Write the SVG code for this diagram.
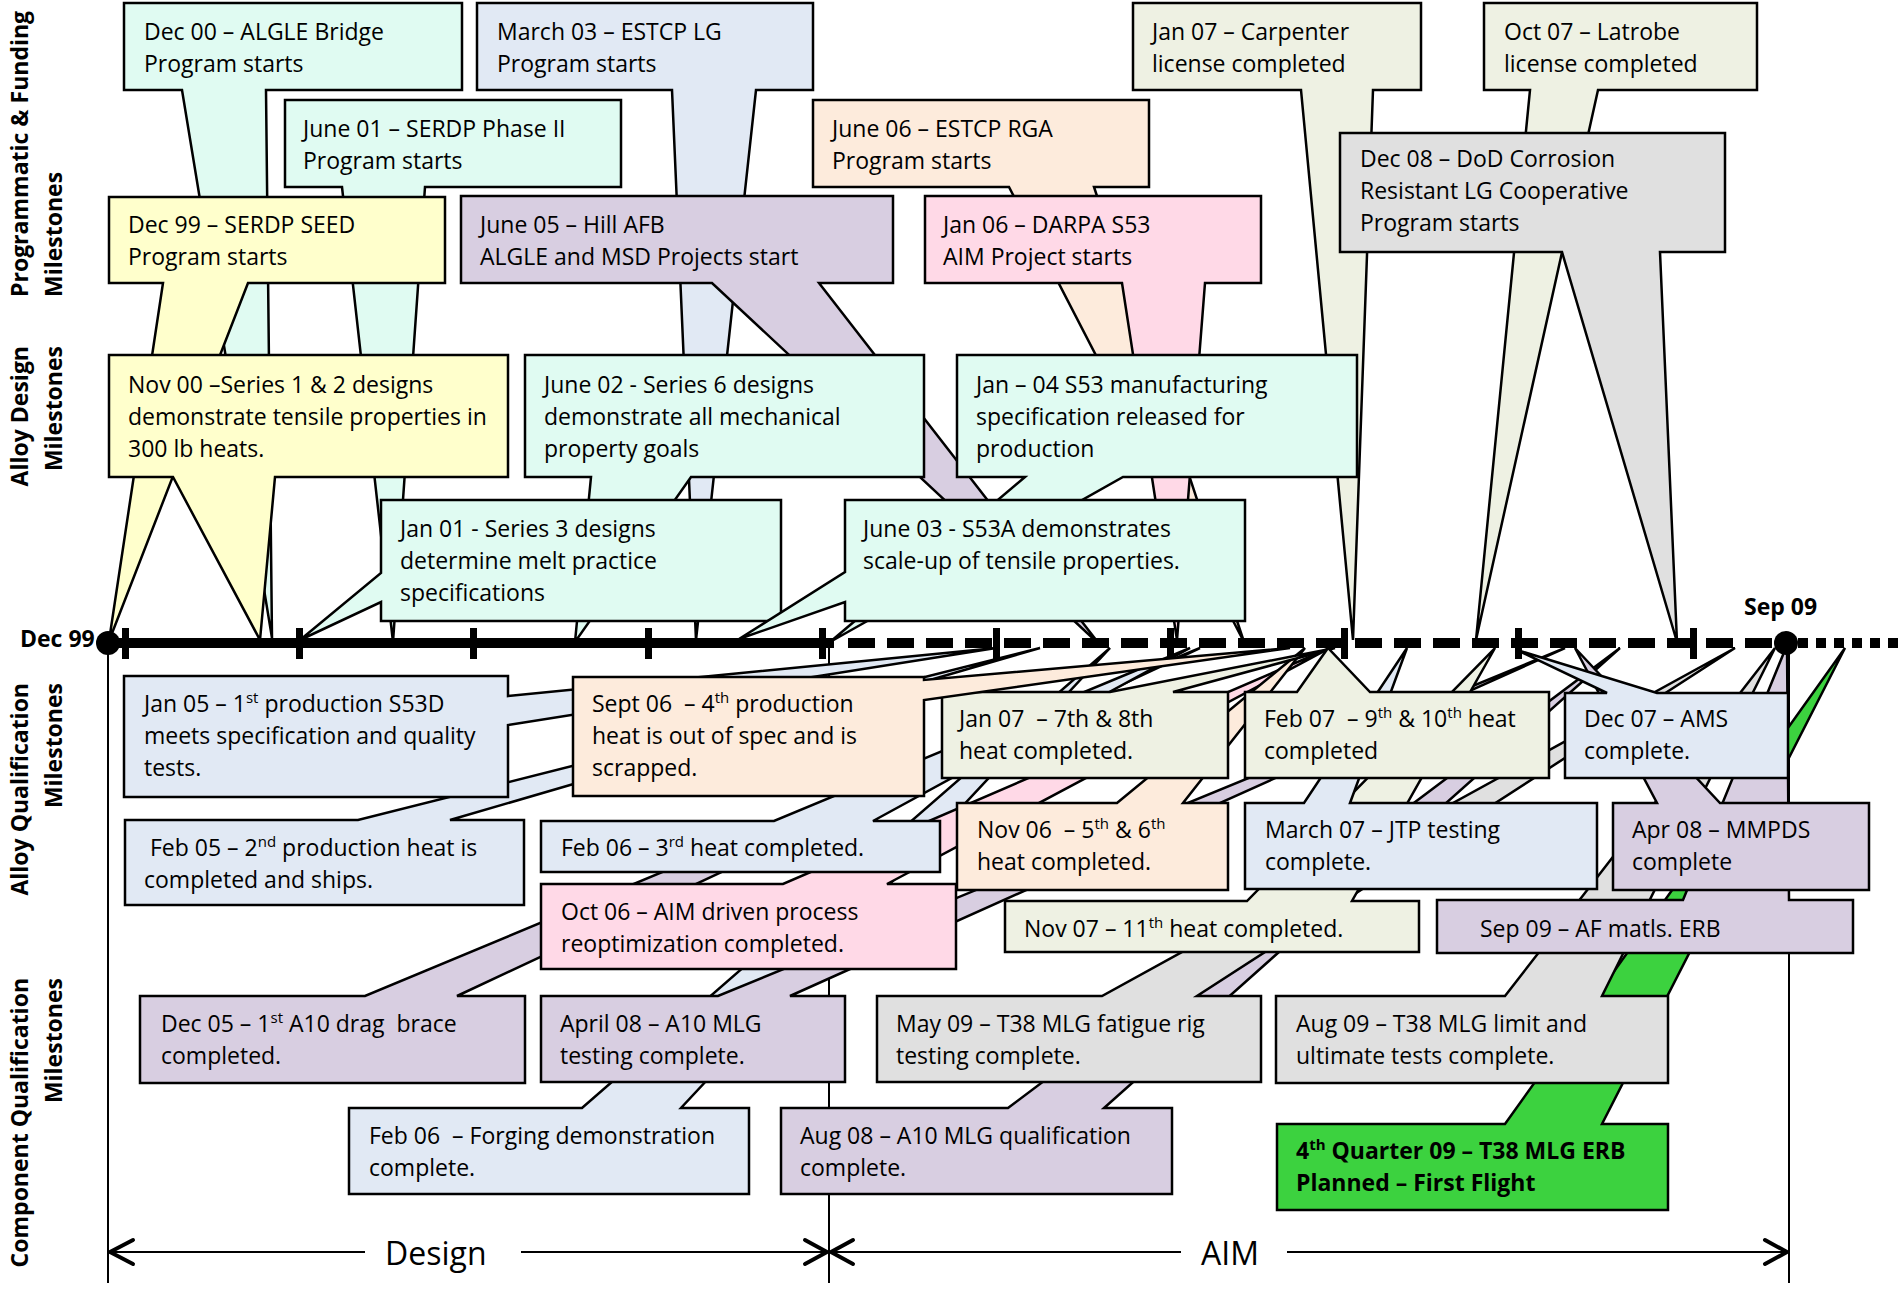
<svg xmlns="http://www.w3.org/2000/svg" width="1902" height="1289" viewBox="0 0 1902 1289">
<style>
.b{stroke:#000;stroke-width:2.5;stroke-linejoin:miter}
.mint{fill:#E0FBF2}.blue{fill:#E1E9F4}.yel{fill:#FFFFCC}.lav{fill:#D8CEE1}.peach{fill:#FDEBDC}.pink{fill:#FFD9E7}.olive{fill:#EEF1E3}.gray{fill:#E0E0E0}.green{fill:#3CD23F}
text{font-family:"Open Sans","Liberation Sans",sans-serif;font-size:23px;fill:#000;white-space:pre}
.lbl{font-weight:bold;font-size:23px}
.bold{font-weight:bold}
.big{font-size:32px}
.ln{stroke:#000;stroke-width:2;fill:none}
.ah{stroke:#000;stroke-width:4;fill:none;stroke-linecap:round;stroke-linejoin:round}
</style>
<rect width="1902" height="1289" fill="#fff"/>
<g id="axis-labels">
<text class="lbl" transform="translate(28,297) rotate(-90)">Programmatic &amp; Funding</text>
<text class="lbl" transform="translate(62,297) rotate(-90)">Milestones</text>
<text class="lbl" text-anchor="end" transform="translate(28,346) rotate(-90)">Alloy Design</text>
<text class="lbl" text-anchor="end" transform="translate(62,346) rotate(-90)">Milestones</text>
<text class="lbl" text-anchor="end" transform="translate(28,683) rotate(-90)">Alloy Qualification</text>
<text class="lbl" text-anchor="end" transform="translate(62,683) rotate(-90)">Milestones</text>
<text class="lbl" text-anchor="end" transform="translate(28,978) rotate(-90)">Component Qualification</text>
<text class="lbl" text-anchor="end" transform="translate(62,978) rotate(-90)">Milestones</text>
</g>
<g id="guides">
<line class="ln" x1="108" y1="643" x2="108" y2="1283"/>
<line class="ln" x1="829" y1="648" x2="829" y2="1283"/>
<line class="ln" x1="1789" y1="643" x2="1789" y2="1283"/>
</g>
<g id="n-dec00"><path class="b mint" d="M124,3H462V90H266L272,638L182,90H124Z"/><text x="144" y="40">Dec 00 – ALGLE Bridge</text><text x="144" y="72">Program starts</text></g>
<g id="n-mar03"><path class="b blue" d="M477,3H813V90H756L696,640L672,90H477Z"/><text x="497" y="40">March 03 – ESTCP LG</text><text x="497" y="72">Program starts</text></g>
<g id="n-jan07c"><path class="b olive" d="M1133,3H1421V90H1373L1353,640L1301,90H1133Z"/><text x="1152" y="40">Jan 07 – Carpenter</text><text x="1152" y="72">license completed</text></g>
<g id="n-oct07"><path class="b olive" d="M1484,3H1757V90H1598L1476,640L1530,90H1484Z"/><text x="1504" y="40">Oct 07 – Latrobe</text><text x="1504" y="72">license completed</text></g>
<g id="n-jun01"><path class="b mint" d="M285,100H621V187H425L393,642L342,187H285Z"/><text x="303" y="137">June 01 – SERDP Phase II</text><text x="303" y="169">Program starts</text></g>
<g id="n-jun06"><path class="b peach" d="M813,100H1149V187H1094L1244,642L1009,187H813Z"/><text x="832" y="137">June 06 – ESTCP RGA</text><text x="832" y="169">Program starts</text></g>
<g id="n-dec99"><path class="b yel" d="M109,197H445V283H248L109,641L163,283H109Z"/><text x="128" y="233">Dec 99 – SERDP SEED</text><text x="128" y="265">Program starts</text></g>
<g id="n-jun05"><path class="b lav" d="M461,196H893V283H819L1100,645L712,283H461Z"/><text x="480" y="233">June 05 – Hill AFB</text><text x="480" y="265">ALGLE and MSD Projects start</text></g>
<g id="n-jan06"><path class="b pink" d="M925,196H1261V283H1205L1177,640L1122,283H925Z"/><text x="943" y="233">Jan 06 – DARPA S53</text><text x="943" y="265">AIM Project starts</text></g>
<g id="n-dec08"><path class="b gray" d="M1340,133H1725V252H1660L1677,642L1562,252H1340Z"/><text x="1360" y="167">Dec 08 – DoD Corrosion</text><text x="1360" y="199">Resistant LG Cooperative</text><text x="1360" y="231">Program starts</text></g>
<g id="n-nov00"><path class="b yel" d="M109,355H508V477H275L260,640L173,477H109Z"/><text x="128" y="393">Nov 00 –Series 1 &amp; 2 designs</text><text x="128" y="425">demonstrate tensile properties in</text><text x="128" y="457">300 lb heats.</text></g>
<g id="n-jun02"><path class="b mint" d="M525,355H924V477H691L575,642L591,477H525Z"/><text x="544" y="393">June 02 - Series 6 designs</text><text x="544" y="425">demonstrate all mechanical</text><text x="544" y="457">property goals</text></g>
<g id="n-jan04"><path class="b mint" d="M957,355H1357V477H1123L830,642L1025,477H957Z"/><text x="976" y="393">Jan – 04 S53 manufacturing</text><text x="976" y="425">specification released for</text><text x="976" y="457">production</text></g>
<g id="n-jan01"><path class="b mint" d="M381,500H781V621H381V602L300,640L381,573Z"/><text x="400" y="537">Jan 01 - Series 3 designs</text><text x="400" y="569">determine melt practice</text><text x="400" y="601">specifications</text></g>
<g id="n-jun03"><path class="b mint" d="M845,500H1245V621H845V602L739,639L845,572Z"/><text x="863" y="537">June 03 - S53A demonstrates</text><text x="863" y="569">scale-up of tensile properties.</text></g>

<g id="n-feb06f"><path class="b blue" d="M349,1108H582L1110,648L681,1108H749V1194H349Z"/><text x="369" y="1144">Feb 06  – Forging demonstration</text><text x="369" y="1176">complete.</text></g>
<g id="n-aug08"><path class="b lav" d="M781,1108H1008L1620,648L1104,1108H1172V1194H781Z"/><text x="800" y="1144">Aug 08 – A10 MLG qualification</text><text x="800" y="1176">complete.</text></g>
<g id="n-q409"><path class="b green" d="M1277,1124H1505L1845,648L1602,1124H1668V1210H1277Z"/><text class="bold" x="1296" y="1159">4<tspan font-size="15" dy="-9">th</tspan><tspan dy="9"> Quarter 09 – T38 MLG ERB</tspan></text><text class="bold" x="1296" y="1191">Planned – First Flight</text></g>
<g id="n-dec05"><path class="b lav" d="M140,996H365L1200,648L457,996H525V1083H140Z"/><text x="161" y="1032">Dec 05 – 1<tspan font-size="15" dy="-9">st</tspan><tspan dy="9"> A10 drag  brace</tspan></text><text x="161" y="1064">completed.</text></g>
<g id="n-apr08a"><path class="b lav" d="M541,996H718L1565,648L790,996H845V1082H541Z"/><text x="560" y="1032">April 08 – A10 MLG</text><text x="560" y="1064">testing complete.</text></g>
<g id="n-may09"><path class="b gray" d="M877,996H1102L1735,648L1197,996H1261V1082H877Z"/><text x="896" y="1032">May 09 – T38 MLG fatigue rig</text><text x="896" y="1064">testing complete.</text></g>
<g id="n-aug09"><path class="b gray" d="M1276,996H1505L1775,648L1602,996H1668V1083H1276Z"/><text x="1296" y="1032">Aug 09 – T38 MLG limit and</text><text x="1296" y="1064">ultimate tests complete.</text></g>
<g id="n-sep09"><path class="b lav" d="M1437,900H1683L1787,645L1789,900H1853V953H1437Z"/><text x="1480" y="937">Sep 09 – AF matls. ERB</text></g>
<g id="n-nov07"><path class="b olive" d="M1005,901H1247L1495,648L1352,901H1419V952H1005Z"/><text x="1024" y="937">Nov 07 – 11<tspan font-size="15" dy="-9">th</tspan><tspan dy="9"> heat completed.</tspan></text></g>
<g id="n-oct06"><path class="b pink" d="M541,884H783L1330,648L887,884H956V969H541Z"/><text x="561" y="920">Oct 06 – AIM driven process</text><text x="561" y="952">reoptimization completed.</text></g>
<g id="n-nov06"><path class="b peach" d="M957,803H1117L1305,648L1183,803H1228V890H957Z"/><text x="977" y="838">Nov 06  – 5<tspan font-size="15" dy="-9">th</tspan><tspan dy="9"> &amp; 6</tspan><tspan font-size="15" dy="-9">th</tspan></text><text x="977" y="870">heat completed.</text></g>
<g id="n-mar07"><path class="b blue" d="M1245,803H1304L1407,648L1350,803H1597V889H1245Z"/><text x="1265" y="838">March 07 – JTP testing</text><text x="1265" y="870">complete.</text></g>
<g id="n-apr08m"><path class="b lav" d="M1613,803H1657L1575,648L1720,803H1869V890H1613Z"/><text x="1632" y="838">Apr 08 – MMPDS</text><text x="1632" y="870">complete</text></g>
<g id="n-feb06h"><path class="b blue" d="M541,821H774L1190,648L873,821H940V872H541Z"/><text x="561" y="856">Feb 06 – 3<tspan font-size="15" dy="-9">rd</tspan><tspan dy="9"> heat completed.</tspan></text></g>
<g id="n-feb05"><path class="b blue" d="M125,820H358L1040,648L450,820H524V905H125Z"/><text x="150" y="856">Feb 05 – 2<tspan font-size="15" dy="-9">nd</tspan><tspan dy="9"> production heat is</tspan></text><text x="144" y="888">completed and ships.</text></g>
<g id="n-jan07h"><path class="b olive" d="M942,692H1110L1335,648L1173,692H1228V778H942Z"/><text x="959" y="727">Jan 07  – 7th &amp; 8th</text><text x="959" y="759">heat completed.</text></g>
<g id="n-feb07"><path class="b olive" d="M1245,692H1297L1328,648L1370,692H1549V778H1245Z"/><text x="1264" y="727">Feb 07  – 9<tspan font-size="15" dy="-9">th</tspan><tspan dy="9"> &amp; 10</tspan><tspan font-size="15" dy="-9">th</tspan><tspan dy="9"> heat</tspan></text><text x="1264" y="759">completed</text></g>
<g id="n-dec07"><path class="b blue" d="M1565,693H1607L1517,650L1657,693H1788V778H1565Z"/><text x="1584" y="727">Dec 07 – AMS</text><text x="1584" y="759">complete.</text></g>
<g id="n-jan05"><path class="b blue" d="M124,676H508V696L996,648L508,725V797H124Z"/><text x="144" y="712">Jan 05 – 1<tspan font-size="15" dy="-9">st</tspan><tspan dy="9"> production S53D</tspan></text><text x="144" y="744">meets specification and quality</text><text x="144" y="776">tests.</text></g>
<g id="n-sep06"><path class="b peach" d="M573,677H924V680L1290,648L924,700V796H573Z"/><text x="592" y="712">Sept 06  – 4<tspan font-size="15" dy="-9">th</tspan><tspan dy="9"> production</tspan></text><text x="592" y="744">heat is out of spec and is</text><text x="592" y="776">scrapped.</text></g>

<g id="connectors">
<line x1="108" y1="643" x2="834" y2="643" stroke="#000" stroke-width="10"/>
<line x1="848" y1="643" x2="1786" y2="643" stroke="#000" stroke-width="10" stroke-dasharray="27 12"/>
<line x1="1798" y1="643" x2="1902" y2="643" stroke="#000" stroke-width="10" stroke-dasharray="10 8"/>
<g fill="#000">
<rect x="122" y="628" width="7" height="31"/><rect x="296" y="628" width="7" height="31"/><rect x="470" y="628" width="7" height="31"/><rect x="645" y="628" width="7" height="31"/><rect x="819" y="628" width="7" height="31"/><rect x="993" y="628" width="7" height="31"/><rect x="1167" y="628" width="7" height="31"/><rect x="1341" y="628" width="7" height="31"/><rect x="1515" y="628" width="7" height="31"/><rect x="1690" y="628" width="7" height="31"/>
<circle cx="108" cy="643" r="12"/><circle cx="1786" cy="643" r="12"/>
</g>
<text class="bold" x="20" y="647" font-size="22.5">Dec 99</text>
<text class="bold" x="1744" y="615" font-size="22.5">Sep 09</text>
<line class="ln" x1="110" y1="1252" x2="365" y2="1252"/>
<line class="ln" x1="521" y1="1252" x2="827" y2="1252"/>
<line class="ln" x1="831" y1="1252" x2="1181" y2="1252"/>
<line class="ln" x1="1287" y1="1252" x2="1787" y2="1252"/>
<path class="ah" d="M133,1240L110,1252L133,1264"/>
<path class="ah" d="M805,1240L827,1252L805,1264"/>
<path class="ah" d="M853,1240L831,1252L853,1264"/>
<path class="ah" d="M1765,1240L1787,1252L1765,1264"/>
<text class="big" x="385" y="1265">Design</text>
<text class="big" x="1201" y="1265">AIM</text>
</g>
</svg>
